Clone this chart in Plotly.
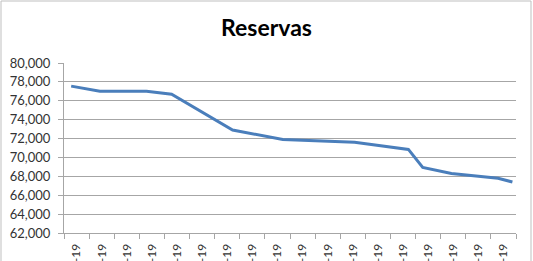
import plotly.graph_objects as go
import pandas as pd

# Data
dates = ["2019-01-06", "2019-01-14", "2019-01-27", "2019-02-03", "2019-02-20",
         "2019-03-06", "2019-03-26", "2019-04-10", "2019-04-14", "2019-04-22",
         "2019-05-05", "2019-05-09"]
reservas = [77550, 77000, 77000, 76700, 72900, 71900, 71600, 70850, 68950,
            68300, 67800, 67400]
y_ticks = list(range(62000, 80001, 2000))
week_starts = pd.date_range("2019-01-04", periods=18, freq="7D")
x_ticktext = [d.strftime("%d-%b-%y") for d in week_starts]
x_tickvals = [d + pd.Timedelta(hours=84) for d in week_starts]

W, H = 533, 261
ML, MR, MT, MB = 64, 17, 63, 28
pw, ph = W - ML - MR, H - MT - MB

fig = go.Figure()
fig.add_trace(go.Scatter(x=dates, y=reservas, mode="lines",
                         line=dict(color="#4a7ebb", width=3)))

grid = "#a6a6a6"
fig.update_layout(
    width=W, height=H,
    margin=dict(l=ML, r=MR, t=MT, b=MB, autoexpand=False),
    paper_bgcolor="white", plot_bgcolor="white",
    showlegend=False,
    title=dict(text="<b>Reservas</b>", x=0.5, xref="container", xanchor="center",
               y=1 - 28 / H, yref="container", yanchor="middle",
               font=dict(family="Lato", size=23, color="#000000")),
    xaxis=dict(type="date", range=["2019-01-04", "2019-05-10"],
               tickvals=x_tickvals, ticktext=x_ticktext,
               tickangle=-90, ticks="",
               minor=dict(tick0="2019-01-04", dtick=7 * 86400000,
                          ticks="outside", ticklen=5, tickcolor=grid,
                          showgrid=False),
               showline=True, linecolor=grid, linewidth=1,
               showgrid=False, zeroline=False, automargin=False,
               ticklabelstandoff=5,
               tickfont=dict(family="Lato", size=12, color="#333333")),
    yaxis=dict(range=[62000, 80000], tickvals=y_ticks, tickformat=",",
               ticks="outside", ticklen=5, tickcolor=grid,
               showline=True, linecolor=grid, linewidth=1,
               showgrid=True, gridcolor=grid, gridwidth=1,
               zeroline=False, automargin=False, ticklabelstandoff=5,
               tickfont=dict(family="Lato", size=13, color="#333333")),
)

# outer chart border
fig.add_shape(type="rect", xref="paper", yref="paper",
              x0=(1 - ML) / pw, x1=(531 - ML) / pw,
              y0=(H - MB - 275) / ph, y1=(H - MB - 1) / ph,
              line=dict(color="#bfbfbf", width=1), layer="below")

fig.write_html("out.html")
